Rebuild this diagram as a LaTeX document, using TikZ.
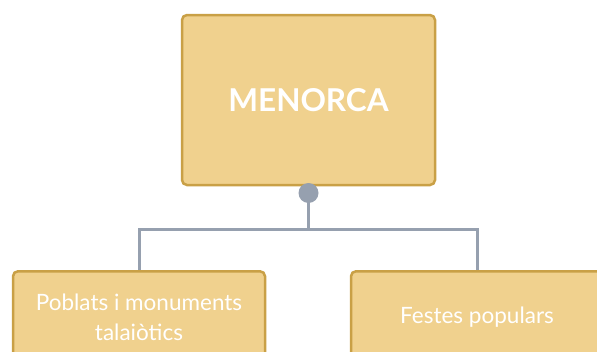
\documentclass[tikz,border=0pt]{standalone}
\usepackage{fontspec}
\setmainfont{Lato}
\usetikzlibrary{positioning}

\definecolor{TopicFill}{RGB}{240,209,142}
\definecolor{TopicDraw}{RGB}{201,160,70}
\definecolor{LinkGray}{RGB}{150,160,175}

\begin{document}
\begin{tikzpicture}
  \tikzset{topic/.style = {shape = rectangle, rounded corners = 5pt, fill = TopicFill, draw = TopicDraw,
                           line width = 2.5pt, text = white, align = center}}
  \tikzset{root/.style = {topic, minimum width = 253pt, minimum height = 170pt,
                          font = \fontsize{31.5}{36}\selectfont\bfseries}}
  \tikzset{leaf/.style = {topic, minimum width = 252pt, minimum height = 92pt,
                          font = \fontsize{22.5}{30}\selectfont, anchor = north}}
  \tikzset{link/.style = {draw = LinkGray, line width = 3pt}}
  \tikzset{knob/.style = {shape = circle, fill = LinkGray, minimum size = 20pt, inner sep = 0pt}}

  \useasboundingbox (0,0) rectangle (597pt,-351pt);

  \node[root] (Menorca) at (308.5pt,-100pt) {MENORCA};
  \node[leaf] (Poblats) at (139pt,-270pt) {Poblats i monuments\\talaiòtics};
  \node[leaf] (Festes) at (477pt,-270pt) {Festes populars};

  \coordinate (Knob) at (308.5pt,-193pt);
  \coordinate (Fork) at (308.5pt,-229pt);
  \draw[link] (Knob) -- (Fork) -| (Poblats.north);
  \draw[link] (Fork) -| (Festes.north);
  \node[knob] at (Knob) {};

\end{tikzpicture}
\end{document}
